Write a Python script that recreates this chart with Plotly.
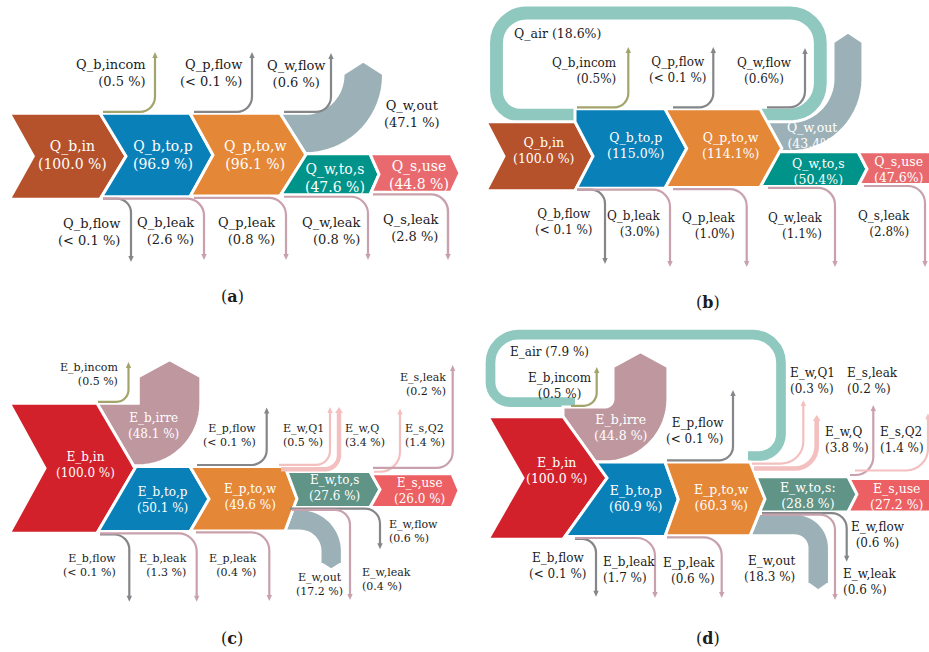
import numpy as np
import plotly.graph_objects as go

# ---------------- flow data, percent of fuel input ----------------
# (a) energy balance
A_STAGES = ["Q_b,in", "Q_b,to,p", "Q_p,to,w", "Q_w,to,s", "Q_s,use"]
A_STAGE_PCT = [100.0, 96.9, 96.1, 47.6, 44.8]
A_OUT = ["Q_w,out"]
A_OUT_PCT = [47.1]
A_UP = ["Q_b,incom", "Q_p,flow", "Q_w,flow"]
A_UP_PCT = [0.5, 0.1, 0.6]
A_DOWN = ["Q_b,flow", "Q_b,leak", "Q_p,leak", "Q_w,leak", "Q_s,leak"]
A_DOWN_PCT = [0.1, 2.6, 0.8, 0.8, 2.8]

# (b) energy balance with air recirculation
B_STAGES = ["Q_b,in", "Q_b,to,p", "Q_p,to,w", "Q_w,to,s", "Q_s,use"]
B_STAGE_PCT = [100.0, 115.0, 114.1, 50.4, 47.6]
B_LOOP = ["Q_air"]
B_LOOP_PCT = [18.6]
B_OUT = ["Q_w,out"]
B_OUT_PCT = [43.4]
B_UP = ["Q_b,incom", "Q_p,flow", "Q_w,flow"]
B_UP_PCT = [0.5, 0.1, 0.6]
B_DOWN = ["Q_b,flow", "Q_b,leak", "Q_p,leak", "Q_w,leak", "Q_s,leak"]
B_DOWN_PCT = [0.1, 3.0, 1.0, 1.1, 2.8]

# (c) exergy balance
C_STAGES = ["E_b,in", "E_b,to,p", "E_p,to,w", "E_w,to,s", "E_s,use"]
C_STAGE_PCT = [100.0, 50.1, 49.6, 27.6, 26.0]
C_OUT = ["E_b,irre", "E_w,out"]
C_OUT_PCT = [48.1, 17.2]
C_UP = ["E_b,incom", "E_p,flow", "E_w,Q1", "E_w,Q", "E_s,Q2", "E_s,leak"]
C_UP_PCT = [0.5, 0.1, 0.5, 3.4, 1.4, 0.2]
C_DOWN = ["E_b,flow", "E_b,leak", "E_p,leak", "E_w,flow", "E_w,leak"]
C_DOWN_PCT = [0.1, 1.3, 0.4, 0.6, 0.4]

# (d) exergy balance with air recirculation
D_STAGES = ["E_b,in", "E_b,to,p", "E_p,to,w", "E_w,to,s:", "E_s,use"]
D_STAGE_PCT = [100.0, 60.9, 60.3, 28.8, 27.2]
D_LOOP = ["E_air"]
D_LOOP_PCT = [7.9]
D_OUT = ["E_b,irre", "E_w,out"]
D_OUT_PCT = [44.8, 18.3]
D_UP = ["E_b,incom", "E_p,flow", "E_w,Q1", "E_w,Q", "E_s,leak", "E_s,Q2"]
D_UP_PCT = [0.5, 0.1, 0.3, 3.8, 0.2, 1.4]
D_DOWN = ["E_b,flow", "E_b,leak", "E_p,leak", "E_w,flow", "E_w,leak"]
D_DOWN_PCT = [0.1, 1.7, 0.6, 0.6, 0.6]

# flows reported only as an upper bound
BELOW_LIMIT = {"Q_b,flow", "Q_p,flow", "E_b,flow", "E_p,flow"}

# ---------------- style ----------------
W, H = 929, 652
FONT = "DejaVu Serif"
BLACK = "#1c1c1c"
GAP = 3.0
BROWN, BLUE, ORANGE = "#B5522B", "#0A80B9", "#E48737"
TEAL, ROSE_A = "#009389", "#E96A6E"
RED, SAGE, ROSE_C = "#D3212B", "#5F9487", "#EC5F62"
GREY_BAND, MAUVE, RING = "#9CB1B7", "#BF979F", "#8FC8BF"
OLIVE, GREY_LINE, LEAK, LIGHT = "#A3A46C", "#858689", "#C9A1AC", "#F4BFBF"

shapes, annos = [], []


def lookup(*pairs):
    d = {}
    for names, nums in pairs:
        d.update(zip(names, nums))
    return d


def pct_text(name, v, sep=" "):
    if name in BELOW_LIMIT:
        return "(< 0.1 %)"
    return f"({v:.1f}{sep}%)"


def poly_path(pts):
    return "M " + " L ".join(f"{x:.2f},{y:.2f}" for x, y in pts) + " Z"


def arc(cx, cy, r, a0, a1, n=18):
    if r <= 0:
        return [(cx, cy)]
    t = np.radians(np.linspace(a0, a1, n))
    return [(cx + r * np.cos(a), cy + r * np.sin(a)) for a in t]


def rounded(pts, radii):
    k = 0.5523
    out = f"M {pts[0][0]:.2f},{pts[0][1]:.2f}"
    for i in range(1, len(pts) - 1):
        p0, p1, p2 = (np.array(p, float) for p in pts[i - 1:i + 2])
        u = (p1 - p0) / np.hypot(*(p1 - p0))
        w = (p2 - p1) / np.hypot(*(p2 - p1))
        r = radii[i - 1]
        a, b = p1 - u * r, p1 + w * r
        c1, c2 = a + u * r * k, b - w * r * k
        out += (f" L {a[0]:.2f},{a[1]:.2f} C {c1[0]:.2f},{c1[1]:.2f} "
                f"{c2[0]:.2f},{c2[1]:.2f} {b[0]:.2f},{b[1]:.2f}")
    out += f" L {pts[-1][0]:.2f},{pts[-1][1]:.2f}"
    return out


def add_fill(pts, color, outline=True):
    shapes.append(dict(type="path", xref="x", yref="y", path=poly_path(pts),
                       fillcolor=color, layer="above",
                       line=dict(color="white", width=GAP if outline else 0)))


def chev(top, h, xr, tip):
    return dict(top=top, bot=top + h, yc=top + h / 2, xr=xr, tip=tip)


def prof_x(g, y):
    if y <= g["top"] or y >= g["bot"]:
        return g["xr"]
    half = (g["bot"] - g["top"]) / 2
    return g["xr"] + g["tip"] * (1 - abs(y - g["yc"]) / half)


def left_edge(prev, y0, y1):
    ys = {y0, y1}
    for yy in (prev["top"], prev["yc"], prev["bot"]):
        if y0 < yy < y1:
            ys.add(yy)
    return [(prof_x(prev, y), y) for y in sorted(ys, reverse=True)]


def draw_row(ch, colors, xl, notch):
    for i, g in enumerate(ch):
        right = [(g["xr"], g["top"]), (g["xr"] + g["tip"], g["yc"]), (g["xr"], g["bot"])]
        if i == 0:
            left = [(xl, g["bot"]), (xl + notch, g["yc"]), (xl, g["top"])]
        else:
            left = left_edge(ch[i - 1], g["top"], g["bot"])
        add_fill(right + left, colors[i])


def add_bend(prev, top, w, cx, r_in, y_end, head, up, color):
    bot = top + w
    left = left_edge(prev, top, bot)
    r_out = r_in + w
    if up:
        cy = top - r_in
        pts = ([left[-1]] + arc(cx, cy, r_in, 90, 0)
               + [(cx + r_in, y_end), (cx + r_in + w / 2, y_end - head), (cx + r_out, y_end)]
               + arc(cx, cy, r_out, 0, 90) + left)
    else:
        cy = bot + r_in
        pts = ([left[-1]] + arc(cx, cy, r_out, -90, 0)
               + [(cx + r_out, y_end), (cx + r_in + w / 2, y_end + head), (cx + r_in, y_end)]
               + arc(cx, cy, r_in, 0, -90) + left)
    add_fill(pts, color)


def add_thin(x0, y0, xv, y1, r, width, color):
    lw = max(2.2, width)
    up = y1 < y0
    yend = y1 + 4 if up else y1 - 4
    shapes.append(dict(type="path", xref="x", yref="y", layer="above",
                       path=rounded([(x0, y0), (xv, y0), (xv, yend)], [r]),
                       line=dict(color=color, width=lw)))
    hw, L = lw / 2 + 1.6, 6
    if up:
        tri = [(xv - hw, y1 + L), (xv, y1), (xv + hw, y1 + L)]
    else:
        tri = [(xv - hw, y1 - L), (xv, y1), (xv + hw, y1 - L)]
    add_fill(tri, color, outline=False)


def add_loop(pts, radii, width, color):
    shapes.append(dict(type="path", xref="x", yref="y", layer="above",
                       path=rounded(pts, radii), line=dict(color=color, width=width)))


def label(x, y, text, anchor="center", size=12, color=BLACK):
    annos.append(dict(x=x, y=y, xref="x", yref="y", text=text, showarrow=False,
                      xanchor=anchor, yanchor="middle", align=anchor,
                      font=dict(family=FONT, size=size, color=color)))


def two_line(name, v, sep=" "):
    return f"{name}<br>{pct_text(name, v, sep)}"


# ================= panel (a) =================
v = lookup((A_STAGES, A_STAGE_PCT), (A_OUT, A_OUT_PCT), (A_UP, A_UP_PCT), (A_DOWN, A_DOWN_PCT))
s, T = 0.86, 113.3
t_ws = T + v["Q_w,out"] * s
tops = [T, T, T, t_ws, t_ws]
ch = [chev(tops[i], A_STAGE_PCT[i] * s, xr, tp)
      for i, (xr, tp) in enumerate(zip([100, 190, 280, 370, 451], [26, 23, 26, 9, 9]))]
add_bend(ch[2], T, v["Q_w,out"] * s, cx=305, r_in=38, y_end=74, head=13, up=True, color=GREY_BAND)
draw_row(ch, [BROWN, BLUE, ORANGE, TEAL, ROSE_A], xl=9.3, notch=24)
up_geo = {"Q_b,incom": (103, 155, 15, 52, OLIVE),
          "Q_p,flow": (194, 252, 15, 52, GREY_LINE),
          "Q_w,flow": (284, 331, 15, 53, GREY_LINE)}
for n in A_UP:
    x0, xv, r, y1, c = up_geo[n]
    add_thin(x0, T - 1.5, xv, y1, r, v[n] * s, c)
down_geo = {"Q_b,flow": (103, 1, 131, 14, 262, GREY_LINE),
            "Q_b,leak": (103, 1, 204, 17, 260, LEAK),
            "Q_p,leak": (194, 2, 286, 17, 260, LEAK),
            "Q_w,leak": (284, 3, 368, 17, 260, LEAK),
            "Q_s,leak": (373, 4, 448, 17, 260, LEAK)}
for n in A_DOWN:
    x0, src, xv, r, y1, c = down_geo[n]
    add_thin(x0, ch[src]["bot"] + 2, xv, y1, r, v[n] * s, c)
for n, (x, y) in zip(A_STAGES, [(72, 154.5), (163.3, 154.5), (255, 154.5), (335, 177.5), (419, 174.5)]):
    label(x, y, two_line(n, v[n]), size=14, color="white")
label(412, 113.5, two_line("Q_w,out", v["Q_w,out"]), size=13)
for n, (x, y, a) in {"Q_b,incom": (148, 73, "right"), "Q_p,flow": (244, 73, "right"),
                     "Q_w,flow": (296, 73.5, "center"), "Q_b,flow": (122, 231.5, "right"),
                     "Q_b,leak": (196, 231, "right"), "Q_p,leak": (277, 231, "right"),
                     "Q_w,leak": (362, 231, "right"), "Q_s,leak": (441, 227.5, "right")}.items():
    label(x, y, two_line(n, v[n]), anchor=a, size=13)
label(232, 296, "(<b>a</b>)", size=16)

# ================= panel (b) =================
v = lookup((B_STAGES, B_STAGE_PCT), (B_LOOP, B_LOOP_PCT), (B_OUT, B_OUT_PCT),
           (B_UP, B_UP_PCT), (B_DOWN, B_DOWN_PCT))
s, T = 0.69, 121.7
lw_air = v["Q_air"] * s
t_mid = T - lw_air
t_ws = t_mid + (v["Q_air"] + v["Q_w,out"]) * s
tops = [T, t_mid, t_mid, t_ws, t_ws]
ch = [chev(tops[i], B_STAGE_PCT[i] * s, xr, tp)
      for i, (xr, tp) in enumerate(zip([575, 665, 760, 858, 930], [18, 21.7, 21.7, 9, 9]))]
y_loop = t_mid + lw_air / 2
add_loop([(762, y_loop), (820.3, y_loop), (820.3, 13), (496.5, 13), (496.5, y_loop), (590, y_loop)],
         [32, 30, 30, 24], lw_air, RING)
add_bend(ch[2], t_mid + lw_air, v["Q_w,out"] * s, cx=790, r_in=43, y_end=42, head=10, up=True,
         color=GREY_BAND)
draw_row(ch, [BROWN, BLUE, ORANGE, TEAL, ROSE_A], xl=486, notch=18)
up_geo = {"Q_b,incom": (577, 628.3, 14, 47, OLIVE),
          "Q_p,flow": (673, 713.3, 14, 47, GREY_LINE),
          "Q_w,flow": (767, 805, 16, 48, GREY_LINE)}
for n in B_UP:
    x0, xv, r, y1, c = up_geo[n]
    add_thin(x0, t_mid - 1.5, xv, y1, r, v[n] * s, c)
down_geo = {"Q_b,flow": (577, 1, 605, 14, 264, GREY_LINE),
            "Q_b,leak": (577, 1, 670, 17, 267, LEAK),
            "Q_p,leak": (673, 2, 746.7, 17, 267, LEAK),
            "Q_w,leak": (768, 3, 835, 17, 267, LEAK),
            "Q_s,leak": (864, 4, 925, 17, 267, LEAK)}
for n in B_DOWN:
    x0, src, xv, r, y1, c = down_geo[n]
    add_thin(x0, ch[src]["bot"] + 1.5, xv, y1, r, v[n] * s, c)
B_SPACED = {"Q_b,in"}
for n, (x, y) in zip(B_STAGES, [(543.3, 150), (635.7, 145.5), (730.7, 145.5), (818.3, 171), (898, 169.5)]):
    label(x, y, two_line(n, v[n], " " if n in B_SPACED else ""), size=12.5, color="white")
label(811.7, 135.5, two_line("Q_w,out", v["Q_w,out"], ""), size=12.5, color="white")
label(512.3, 33.3, f"Q_air ({v['Q_air']:.1f}%)", anchor="left", size=12.5)
for n, (x, y, a) in {"Q_b,incom": (619.3, 70.5, "right"), "Q_p,flow": (678, 70, "center"),
                     "Q_w,flow": (764, 70.5, "center"), "Q_b,flow": (564, 222, "center"),
                     "Q_b,leak": (662, 223.7, "right"), "Q_p,leak": (736.7, 226, "right"),
                     "Q_w,leak": (825, 226, "right"), "Q_s,leak": (911.7, 224, "right")}.items():
    label(x, y, two_line(n, v[n], ""), anchor=a, size=12)
label(708.3, 302.7, "(<b>b</b>)", size=16)

# ================= panel (c) =================
v = lookup((C_STAGES, C_STAGE_PCT), (C_OUT, C_OUT_PCT), (C_UP, C_UP_PCT), (C_DOWN, C_DOWN_PCT))
s, T = 1.30, 403.3
t_p = T + (v["E_b,incom"] + v["E_b,irre"]) * s
t_ws = t_p + (v["E_w,Q1"] + v["E_w,Q"]) * s
t_su = t_ws + (v["E_s,Q2"] + v["E_s,leak"]) * s
tops = [T, t_p, t_p, t_ws, t_su]
ch = [chev(tops[i], C_STAGE_PCT[i] * s, xr, tp)
      for i, (xr, tp) in enumerate(zip([97, 190, 285, 370, 452], [38, 19, 12, 10, 7]))]
add_bend(ch[0], T, v["E_b,irre"] * s, cx=138.3, r_in=0, y_end=376.7, head=17, up=True, color=MAUVE)
t_out = ch[3]["bot"] + (v["E_w,flow"] + v["E_w,leak"]) * s
add_bend(ch[2], t_out, v["E_w,out"] * s, cx=300, r_in=20, y_end=563, head=7, up=False, color=GREY_BAND)
draw_row(ch, [RED, BLUE, ORANGE, SAGE, ROSE_C], xl=9.3, notch=35.7)
up_geo = {"E_b,incom": (98, T - 1.5, 128.5, 12, 362, OLIVE),
          "E_p,flow": (197, t_p - 1.5, 266.7, 15, 407.5, GREY_LINE),
          "E_w,Q1": (279, t_p - 1.7, 330, 14, 407, LIGHT),
          "E_w,Q": (281, t_p + 2.8, 339, 14, 407, LIGHT),
          "E_s,Q2": (374, t_ws + 0.2, 400, 20, 408.5, LIGHT),
          "E_s,leak": (373, t_ws - 3.6, 452.7, 16, 365, LEAK)}
for n in C_UP:
    x0, y0, xv, r, y1, c = up_geo[n]
    add_thin(x0, y0, xv, y1, r, v[n] * s, c)
down_geo = {"E_b,flow": (100, ch[0]["bot"] + 1.2, 129.3, 15, 601.7, GREY_LINE),
            "E_b,leak": (100, ch[1]["bot"] + 1.8, 196.7, 18, 601.7, LEAK),
            "E_p,leak": (196, ch[2]["bot"] + 1.5, 269.3, 18, 601, LEAK),
            "E_w,flow": (290, ch[3]["bot"] + 1.2, 380, 15, 549.3, GREY_LINE),
            "E_w,leak": (292, ch[3]["bot"] + 2.5, 350, 15, 600, LEAK)}
for n in C_DOWN:
    x0, y0, xv, r, y1, c = down_geo[n]
    add_thin(x0, y0, xv, y1, r, v[n] * s, c)
for n, (x, y) in zip(C_STAGES, [(85, 465), (162.3, 499.5), (250.7, 497), (334.3, 488.3), (419, 490.5)]):
    label(x, y, two_line(n, v[n]), size=12, color="white")
label(153.3, 425.8, two_line("E_b,irre", v["E_b,irre"]), size=12, color="white")
label(319.7, 584.5, two_line("E_w,out", v["E_w,out"]), size=11)
for n, (x, y, a) in {"E_b,incom": (120, 374, "right"), "E_p,flow": (258.3, 435, "right"),
                     "E_w,Q1": (281, 435, "left"), "E_w,Q": (343.3, 435, "left"),
                     "E_s,Q2": (403.3, 435, "left"), "E_s,leak": (448.3, 384.3, "right"),
                     "E_b,flow": (117.7, 565.3, "right"), "E_b,leak": (189.3, 565.2, "right"),
                     "E_p,leak": (259.3, 565, "right"), "E_w,flow": (386.7, 531.3, "left"),
                     "E_w,leak": (360, 579, "left")}.items():
    label(x, y, two_line(n, v[n]), anchor=a, size=11)
label(231.7, 638.3, "(<b>c</b>)", size=16)

# ================= panel (d) =================
v = lookup((D_STAGES, D_STAGE_PCT), (D_LOOP, D_LOOP_PCT), (D_OUT, D_OUT_PCT),
           (D_UP, D_UP_PCT), (D_DOWN, D_DOWN_PCT))
s, T = 1.226, 416.7
lw_air = v["E_air"] * s
t_irre = T - lw_air
t_p = t_irre + v["E_b,irre"] * s
t_ws = t_p + (v["E_air"] + v["E_w,Q1"] + v["E_w,Q"]) * s
t_su = t_ws + (v["E_s,leak"] + v["E_s,Q2"]) * s
tops = [T, t_p, t_p, t_ws, t_su]
ch = [chev(tops[i], D_STAGE_PCT[i] * s, xr, tp)
      for i, (xr, tp) in enumerate(zip([563, 665, 750, 848, 936], [44, 13.3, 15, 9, 8]))]
y_low = t_irre - lw_air / 2
add_loop([(748, 456), (781, 456), (781, 334.7), (490.5, 334.7), (490.5, y_low), (575, y_low)],
         [22, 28, 28, 20], lw_air, RING)
add_bend(ch[0], t_irre, v["E_b,irre"] * s, cx=605, r_in=8, y_end=366.7, head=15, up=True, color=MAUVE)
t_out = ch[3]["bot"] + (v["E_w,flow"] + v["E_w,leak"]) * s
add_bend(ch[2], t_out, v["E_w,out"] * s, cx=795, r_in=12, y_end=583, head=8, up=False, color=GREY_BAND)
draw_row(ch, [RED, BLUE, ORANGE, SAGE, ROSE_C], xl=488, notch=35)
up_geo = {"E_b,incom": (571, t_irre - 1.2, 596.7, 13, 367, OLIVE),
          "E_p,flow": (667, t_p - 1.5, 733, 14, 390, GREY_LINE),
          "E_w,Q1": (752, t_p + 1.6, 803.3, 22, 400, LIGHT),
          "E_w,Q": (754, t_p + 6.6, 816.7, 22, 415, LIGHT),
          "E_s,leak": (850, t_su - 3.6, 873.3, 18, 405, LEAK),
          "E_s,Q2": (855, t_su - 8.1, 928, 22, 413.3, LIGHT)}
for n in D_UP:
    x0, y0, xv, r, y1, c = up_geo[n]
    add_thin(x0, y0, xv, y1, r, v[n] * s, c)
down_geo = {"E_b,flow": (575, ch[1]["bot"] + 2.2, 596, 14, 596.7, GREY_LINE),
            "E_b,leak": (575, ch[1]["bot"] + 1.4, 655, 18, 598, LEAK),
            "E_p,leak": (667, ch[2]["bot"] + 1.5, 721.7, 18, 598, LEAK),
            "E_w,flow": (762, ch[3]["bot"] + 1.2, 846.7, 15, 561.7, GREY_LINE),
            "E_w,leak": (762, ch[3]["bot"] + 2.6, 835, 15, 600, LEAK)}
for n in D_DOWN:
    x0, y0, xv, r, y1, c = down_geo[n]
    add_thin(x0, y0, xv, y1, r, v[n] * s, c)
for n, (x, y) in zip(D_STAGES, [(556.7, 470.5), (635.7, 498.7), (721, 497), (808.3, 495), (896.7, 496.7)]):
    label(x, y, two_line(n, v[n]), size=12.5, color="white")
label(620, 427.2, two_line("E_b,irre", v["E_b,irre"]), size=12.5, color="white")
label(508.3, 352.3, f"E_air ({v['E_air']:.1f} %)", anchor="left", size=12)
for n, (x, y, a) in {"E_b,incom": (560, 385.7, "center"), "E_p,flow": (726, 430.5, "right"),
                     "E_w,Q1": (788.3, 380.5, "left"), "E_s,leak": (845, 380.5, "left"),
                     "E_w,Q": (823.3, 440.3, "left"), "E_s,Q2": (878.3, 440.3, "left"),
                     "E_b,flow": (558, 566, "center"), "E_b,leak": (600.7, 569.5, "left"),
                     "E_p,leak": (717, 571.3, "right"), "E_w,out": (797, 568.7, "right"),
                     "E_w,flow": (878, 535.3, "center"), "E_w,leak": (840.7, 582.3, "left")}.items():
    label(x, y, two_line(n, v[n]), anchor=a, size=12)
label(708.3, 638.3, "(<b>d</b>)", size=16)

# ---------------- figure ----------------
fig = go.Figure(go.Scatter(x=[], y=[], hoverinfo="skip", showlegend=False))
fig.update_layout(
    width=W, height=H, margin=dict(l=0, r=0, t=0, b=0),
    paper_bgcolor="white", plot_bgcolor="white",
    xaxis=dict(range=[0, W], visible=False, fixedrange=True),
    yaxis=dict(range=[H, 0], visible=False, fixedrange=True),
    shapes=shapes, annotations=annos, showlegend=False,
)
fig.write_html("out.html")
